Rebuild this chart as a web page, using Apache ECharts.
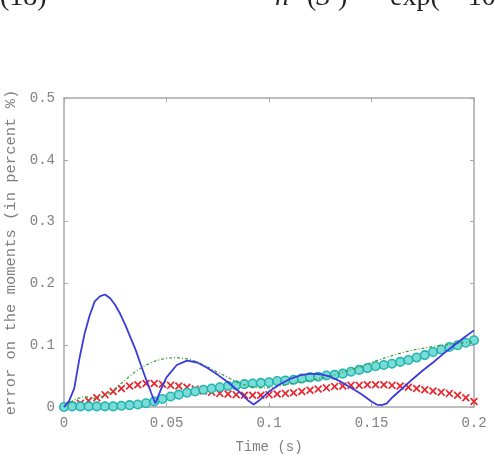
<!DOCTYPE html>
<html>
<head>
<meta charset="utf-8">
<script src="https://cdn.jsdelivr.net/npm/echarts@6/dist/echarts.min.js"></script>
<style>
html,body{margin:0;padding:0;background:#fff;}
#c{width:495px;height:459px;}
</style>
</head>
<body>
<div id="c"></div>
<script>
// ---- data ----
const xTicks = [0, 0.05, 0.1, 0.15, 0.2];
const yTicks = [0, 0.1, 0.2, 0.3, 0.4, 0.5];

// blue solid line
const blueT = [0, 0.0025, 0.005, 0.0075, 0.01, 0.0125, 0.015, 0.0175, 0.02, 0.0225, 0.025, 0.0275, 0.03, 0.0325, 0.035, 0.0375, 0.04, 0.0425, 0.0445, 0.0475, 0.05, 0.055, 0.06, 0.065, 0.07, 0.075, 0.08, 0.085, 0.09, 0.0925, 0.095, 0.1, 0.105, 0.11, 0.115, 0.12, 0.125, 0.13, 0.135, 0.14, 0.145, 0.15, 0.1525, 0.155, 0.1575, 0.16, 0.165, 0.17, 0.175, 0.18, 0.185, 0.19, 0.195, 0.2];
const blueV = [0, 0.010, 0.030, 0.078, 0.118, 0.148, 0.171, 0.179, 0.182, 0.176, 0.165, 0.150, 0.132, 0.112, 0.092, 0.068, 0.045, 0.023, 0.006, 0.030, 0.048, 0.068, 0.075, 0.072, 0.063, 0.052, 0.040, 0.026, 0.010, 0.004, 0.010, 0.025, 0.036, 0.045, 0.051, 0.054, 0.053, 0.049, 0.041, 0.031, 0.021, 0.009, 0.004, 0.003, 0.006, 0.015, 0.030, 0.045, 0.059, 0.072, 0.086, 0.099, 0.112, 0.124];

// green dash-dot line
const greenT = [0, 0.005, 0.01, 0.015, 0.02, 0.025, 0.03, 0.035, 0.04, 0.045, 0.05, 0.055, 0.06, 0.065, 0.07, 0.075, 0.08, 0.085, 0.09, 0.095, 0.1, 0.105, 0.11, 0.115, 0.12, 0.125, 0.13, 0.135, 0.14, 0.145, 0.15, 0.155, 0.16, 0.165, 0.17, 0.175, 0.18, 0.185, 0.19, 0.195, 0.2];
const greenV = [0, 0.012, 0.017, 0.014, 0.018, 0.030, 0.044, 0.058, 0.068, 0.075, 0.079, 0.080, 0.078, 0.073, 0.065, 0.056, 0.048, 0.039, 0.034, 0.031, 0.031, 0.034, 0.037, 0.040, 0.043, 0.046, 0.050, 0.055, 0.060, 0.065, 0.072, 0.078, 0.083, 0.088, 0.092, 0.095, 0.098, 0.100, 0.102, 0.104, 0.106];

// marker series sample times
const markT = [0, 0.004, 0.008, 0.012, 0.016, 0.02, 0.024, 0.028, 0.032, 0.036, 0.04, 0.044, 0.048, 0.052, 0.056, 0.06, 0.064, 0.068, 0.072, 0.076, 0.08, 0.084, 0.088, 0.092, 0.096, 0.1, 0.104, 0.108, 0.112, 0.116, 0.12, 0.124, 0.128, 0.132, 0.136, 0.14, 0.144, 0.148, 0.152, 0.156, 0.16, 0.164, 0.168, 0.172, 0.176, 0.18, 0.184, 0.188, 0.192, 0.196, 0.2];

// red crosses
const redV = [0, 0.003, 0.006, 0.010, 0.015, 0.020, 0.025, 0.030, 0.034, 0.036, 0.038, 0.038, 0.037, 0.035, 0.034, 0.032, 0.029, 0.026, 0.024, 0.022, 0.021, 0.020, 0.019, 0.019, 0.019, 0.020, 0.021, 0.022, 0.023, 0.025, 0.027, 0.029, 0.031, 0.033, 0.034, 0.035, 0.035, 0.036, 0.036, 0.036, 0.035, 0.034, 0.032, 0.030, 0.028, 0.026, 0.024, 0.022, 0.019, 0.015, 0.009];

// cyan circles
const cyanV = [0, 0.001, 0.001, 0.001, 0.001, 0.001, 0.001, 0.002, 0.003, 0.004, 0.006, 0.009, 0.013, 0.017, 0.020, 0.023, 0.025, 0.028, 0.030, 0.032, 0.034, 0.035, 0.037, 0.038, 0.039, 0.040, 0.042, 0.043, 0.044, 0.046, 0.048, 0.049, 0.051, 0.052, 0.054, 0.057, 0.060, 0.063, 0.066, 0.068, 0.070, 0.073, 0.076, 0.080, 0.084, 0.089, 0.093, 0.097, 0.100, 0.104, 0.108];

const xName = 'Time (s)';
const yName = 'error on the moments (in percent %)';

// ---- chart ----
const zip = (a, b) => a.map((t, i) => [t, b[i]]);
const mono = '"Liberation Mono", "DejaVu Sans Mono", monospace';
const serif = '"Liberation Serif", "DejaVu Serif", serif';
const axisGray = '#a8a8a8';
const labelGray = '#808080';

const crossPath = 'path://M0,1.5L1.5,0L5,3.5L8.5,0L10,1.5L6.5,5L10,8.5L8.5,10L5,6.5L1.5,10L0,8.5L3.5,5Z';

const chart = echarts.init(document.getElementById('c'), null, {renderer: 'canvas'});
const commonX = {
  type: 'value', min: xTicks[0], max: xTicks[xTicks.length - 1], interval: 0.05,
  splitLine: {show: false},
  axisLine: {show: true, onZero: false, lineStyle: {color: axisGray, width: 1.5}},
  axisTick: {show: true, inside: true, length: 4, lineStyle: {color: axisGray}}
};
const commonY = {
  type: 'value', min: yTicks[0], max: yTicks[yTicks.length - 1], interval: 0.1,
  splitLine: {show: false},
  axisLine: {show: true, onZero: false, lineStyle: {color: axisGray, width: 1.5}},
  axisTick: {show: true, inside: true, length: 4, lineStyle: {color: axisGray}}
};

const eqStyle = (txt, italic) => ({
  text: txt, font: (italic ? 'italic ' : '') + '28px ' + serif, fill: '#222',
  verticalAlign: 'bottom', lineHeight: 28
});

chart.setOption({
  animation: false,
  backgroundColor: '#fff',
  grid: {left: 64, right: 21, top: 98, bottom: 52, containLabel: false, outerBoundsMode: 'none'},
  xAxis: [
    Object.assign({}, commonX, {
      position: 'bottom',
      name: xName, nameLocation: 'middle', nameGap: 33,
      nameTextStyle: {fontFamily: mono, fontSize: 14, color: labelGray},
      axisLabel: {fontFamily: mono, fontSize: 14, color: labelGray, margin: 9}
    }),
    Object.assign({}, commonX, {position: 'top', axisLabel: {show: false}})
  ],
  yAxis: [
    Object.assign({}, commonY, {
      position: 'left',
      name: yName, nameLocation: 'middle', nameGap: 41,
      nameTextStyle: {fontFamily: mono, fontSize: 15.5, color: labelGray},
      axisLabel: {fontFamily: mono, fontSize: 14, color: labelGray, margin: 9}
    }),
    Object.assign({}, commonY, {position: 'right', axisLabel: {show: false}})
  ],
  graphic: [
    {type: 'text', x: 0, y: 12, style: eqStyle('(18)', false)},
    {type: 'text', x: 275, y: 12, style: eqStyle('h', true)},
    {type: 'text', x: 307, y: 12, style: eqStyle('(', false)},
    {type: 'text', x: 316, y: 12, style: eqStyle('S', true)},
    {type: 'text', x: 338, y: 12, style: eqStyle(')', false)},
    {type: 'text', x: 354, y: 12, style: eqStyle('=', false)},
    {type: 'text', x: 390, y: 12, style: eqStyle('exp(', false)},
    {type: 'text', x: 452, y: 12, style: eqStyle('\u221210', false)}
  ],
  series: [
    {
      type: 'scatter', data: zip(markT, redV), symbol: crossPath, symbolSize: 8,
      itemStyle: {color: '#e8262e', opacity: 1}, z: 2
    },
    {
      type: 'scatter', data: zip(markT, cyanV), symbol: 'circle', symbolSize: 8.5,
      itemStyle: {color: '#7adcd6', borderColor: '#25b4b0', borderWidth: 1.6, opacity: 1}, z: 3
    },
    {
      type: 'line', data: zip(greenT, greenV), showSymbol: false, symbol: 'none',
      lineStyle: {color: '#3c9c3c', width: 1.2, type: [3, 2, 1, 2]}, z: 4
    },
    {
      type: 'line', data: zip(blueT, blueV), showSymbol: false, symbol: 'none',
      lineStyle: {color: '#3b3bdc', width: 1.8}, z: 5
    }
  ]
});
</script>
</body>
</html>
